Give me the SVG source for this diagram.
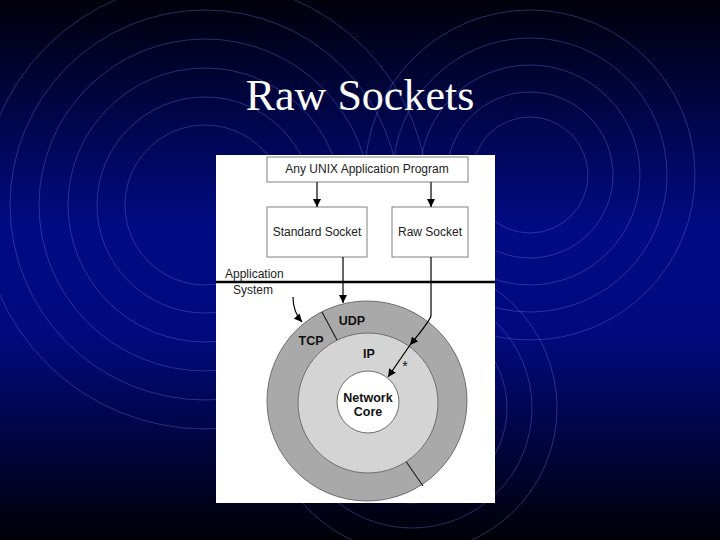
<svg xmlns="http://www.w3.org/2000/svg" width="720" height="540" viewBox="0 0 720 540">
<defs>
<linearGradient id="bg" x1="0" y1="0" x2="0" y2="1">
<stop offset="0" stop-color="#00000a"/>
<stop offset="0.42" stop-color="#000b84"/>
<stop offset="0.62" stop-color="#000a7e"/>
<stop offset="1" stop-color="#000006"/>
</linearGradient>
<marker id="ah" viewBox="0 0 10 10" refX="10" refY="5" markerWidth="8" markerHeight="8" markerUnits="userSpaceOnUse" orient="auto">
<path d="M0,0 L10,5 L0,10 z" fill="#000"/>
</marker>
<style>
.ring{fill:none;stroke:#5a6cd0;stroke-opacity:0.42;stroke-width:1}
.box{fill:#fff;stroke:#808080;stroke-width:1}
.lbl{font-family:"Liberation Sans",Arial,sans-serif;font-size:12px;fill:#222}
.bold{font-family:"Liberation Sans Narrow","Liberation Sans",Arial,sans-serif;font-size:12.5px;font-weight:bold;fill:#111;text-anchor:middle}
.conn{fill:none;stroke:#000;stroke-width:1.2}
</style>
</defs>
<rect width="720" height="540" fill="url(#bg)"/>
<g id="background-rings">
<circle class="ring" cx="205" cy="205" r="80"/>
<circle class="ring" cx="205" cy="205" r="108"/>
<circle class="ring" cx="205" cy="205" r="137"/>
<circle class="ring" cx="205" cy="205" r="166"/>
<circle class="ring" cx="205" cy="205" r="195"/>
<circle class="ring" cx="205" cy="205" r="224"/>
<circle class="ring" cx="530" cy="175" r="58"/>
<circle class="ring" cx="530" cy="175" r="83"/>
<circle class="ring" cx="530" cy="175" r="110"/>
<circle class="ring" cx="530" cy="175" r="137"/>
<circle class="ring" cx="530" cy="175" r="165"/>
<circle class="ring" cx="412" cy="408" r="95"/>
<circle class="ring" cx="412" cy="408" r="120"/>
<circle class="ring" cx="412" cy="408" r="145"/>
</g>
<text x="360" y="110" text-anchor="middle" font-family="'Liberation Serif','Times New Roman',serif" font-size="44" fill="#fff">Raw Sockets</text>
<rect id="panel" x="216" y="155" width="279" height="348" fill="#fff"/>
<g id="app-program">
<rect class="box" x="267" y="157" width="201" height="25"/>
<text class="lbl" x="367" y="173" text-anchor="middle">Any UNIX Application Program</text>
</g>
<g id="standard-socket">
<rect class="box" x="267" y="207" width="100" height="50"/>
<text class="lbl" x="317" y="236" text-anchor="middle">Standard Socket</text>
</g>
<g id="raw-socket">
<rect class="box" x="392" y="207" width="76" height="50"/>
<text class="lbl" x="430" y="236" text-anchor="middle">Raw Socket</text>
</g>
<g id="boundary">
<line x1="216" y1="282" x2="495" y2="282" stroke="#000" stroke-width="2.5"/>
<text class="lbl" x="225" y="278">Application</text>
<text class="lbl" x="233" y="294">System</text>
</g>
<g id="transport-ring">
<circle cx="367" cy="401" r="100" fill="#a9a9a9" stroke="#6e6e6e" stroke-width="1"/>
<line x1="322" y1="312" x2="337" y2="340" stroke="#222" stroke-width="1.2"/>
<line x1="405" y1="460" x2="423" y2="486" stroke="#222" stroke-width="1.2"/>
<text class="bold" x="352" y="325">UDP</text>
<text class="bold" x="311" y="345">TCP</text>
</g>
<g id="ip-ring">
<circle cx="368" cy="403" r="70" fill="#d4d4d4" stroke="#6e6e6e" stroke-width="1"/>
<text class="bold" x="369" y="358">IP</text>
</g>
<g id="network-core">
<circle cx="368" cy="402" r="31" fill="#fff" stroke="#6e6e6e" stroke-width="1"/>
<text class="bold" x="368" y="402">Network</text>
<text class="bold" x="368" y="416">Core</text>
</g>
<g id="connectors">
<line class="conn" x1="317" y1="182" x2="317" y2="207" marker-end="url(#ah)"/>
<line class="conn" x1="431" y1="182" x2="431" y2="207" marker-end="url(#ah)"/>
<line class="conn" x1="343" y1="257" x2="343" y2="303" marker-end="url(#ah)"/>
<path class="conn" d="M431,257 V316 Q429,322 410,345" marker-end="url(#ah)"/>
<path class="conn" d="M410,345 L388,377" marker-end="url(#ah)"/>
<path class="conn" d="M293,297 Q293,312 302,322" marker-end="url(#ah)"/>
<text x="405" y="371" font-family="'Liberation Sans',Arial,sans-serif" font-size="14" fill="#111" text-anchor="middle">*</text>
</g>
</svg>
